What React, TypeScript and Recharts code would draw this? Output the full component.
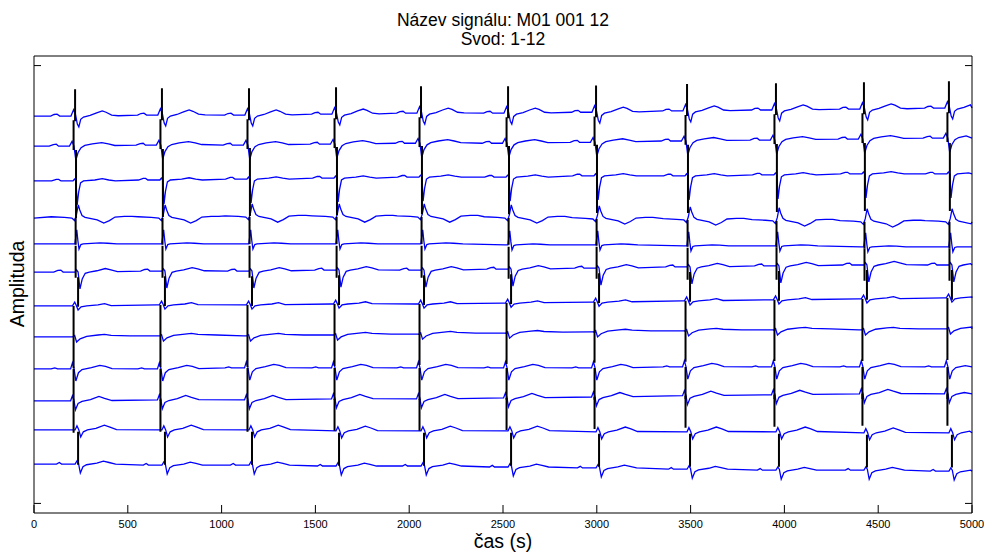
import React from "react";
import { LineChart, Line, XAxis, YAxis } from "recharts";

const BEATS = [219, 682, 1146, 1610, 2063, 2527, 2996, 3481, 3955, 4424, 4877];

const X_TICKS = [0, 500, 1000, 1500, 2000, 2500, 3000, 3500, 4000, 4500, 5000];
const Y_TICKS = [-12.7, 1];

// baseline of each lead at the first beat (mV, with plot offset)
const LEAD_BASE = [-0.58, -1.52, -2.61, -3.77, -4.58, -5.46, -6.52, -7.49, -8.49, -9.49, -10.4, -11.47];

// small timing shift of each lead vs lead 1 (samples)
const LEAD_SHIFT = [0, -8, 5, 3, 3, 16, -8, -8, -8, -8, 16, 16];

// baseline wander per beat (mV)
const LEAD_DRIFT = [
  [0, 0.03, 0.03, 0.06, 0.09, 0.09, 0.12, 0.16, 0.19, 0.22, 0.25],
  [0, 0.03, 0.03, 0.06, 0.09, 0.09, 0.12, 0.16, 0.19, 0.22, 0.25],
  [0, 0.03, 0.06, 0.09, 0.12, 0.12, 0.16, 0.16, 0.19, 0.22, 0.22],
  [0, 0, 0.03, 0.03, 0.03, 0, -0.03, -0.06, -0.09, -0.12, -0.12],
  [0, 0, 0, 0, 0, -0.03, -0.03, -0.06, -0.06, -0.09, -0.09],
  [0, 0.03, 0.03, 0.06, 0.06, 0.09, 0.12, 0.16, 0.19, 0.22, 0.22],
  [0, 0.03, 0.03, 0.06, 0.06, 0.09, 0.12, 0.16, 0.19, 0.22, 0.25],
  [0, 0.03, 0.03, 0.06, 0.09, 0.12, 0.16, 0.19, 0.22, 0.22, 0.25],
  [0, 0, 0.03, 0.03, 0.03, 0.03, 0.03, 0.06, 0.06, 0.06, 0.06],
  [0, 0.03, 0.03, 0.06, 0.06, 0.09, 0.12, 0.16, 0.19, 0.22, 0.22],
  [0, 0, 0, -0.03, -0.03, -0.03, -0.06, -0.06, -0.06, -0.09, -0.09],
  [0, -0.03, -0.03, -0.06, -0.06, -0.09, -0.12, -0.16, -0.19, -0.19, -0.22],
];

// QRS stroke (black) top / bottom relative to the lead baseline (mV)
const QRS_TOP = [0.84, 0.81, 0.97, 0, -0.06, -0.16, 0, 0, 0, 0, -0.06, 0];
const QRS_BOTTOM = [-0.16, -0.12, -1.16, -0.84, -1.06, -1.09, -0.97, -0.97, -1.0, -1.0, -1.09, 0];

// one beat of each lead: [samples from QRS, mV]
const LEAD_WAVES: number[][][] = [
  [[-130, 0], [-112, 0.05], [-96, 0.06], [-82, 0], [-22, 0], [-8, 0.2], [2, 0.05], [12, -0.25], [20, -0.34], [30, -0.1], [45, -0.03], [80, 0.02], [115, 0.1], [145, 0.16], [165, 0.12], [195, 0.03], [230, 0.01]],
  [[-130, 0], [-108, 0.05], [-92, 0.06], [-80, 0], [-22, 0], [-8, 0.15], [2, 0], [12, -0.44], [24, -0.2], [40, -0.05], [60, 0.02], [100, 0.07], [150, 0.11], [185, 0.07], [220, 0.02]],
  [[-130, 0], [-105, 0.05], [-92, 0.05], [-80, 0], [-16, 0], [-8, 0.06], [0, 0], [6, -0.75], [14, -0.35], [24, -0.06], [40, 0], [100, 0.03], [140, 0.07], [175, 0.03], [210, 0]],
  [[-130, 0.04], [-60, 0.02], [-20, 0], [-6, -0.08], [4, 0.1], [14, 0.41], [22, 0.25], [34, 0.08], [50, 0.02], [115, -0.06], [150, -0.16], [180, -0.08], [210, 0.03], [260, 0.05], [300, 0.05]],
  [[-20, 0], [-4, 0], [6, 0.44], [12, 0.1], [18, -0.16], [28, -0.02], [40, 0], [130, 0.03], [170, 0.02], [220, 0]],
  [[-130, 0], [-108, 0.05], [-92, 0.06], [-80, 0], [-16, 0], [-8, 0.07], [0, 0], [10, -0.53], [22, -0.22], [38, -0.04], [60, 0], [100, 0.04], [145, 0.11], [175, 0.07], [210, 0.01]],
  [[-20, 0], [-6, 0], [6, 0.12], [14, 0.02], [24, -0.13], [40, -0.03], [70, 0], [130, 0.03], [165, 0.07], [200, 0.01]],
  [[-20, 0], [-4, 0], [6, 0.04], [16, -0.16], [35, -0.06], [70, 0.02], [130, 0.06], [165, 0.08], [200, 0.05], [300, 0.03]],
  [[-120, 0], [-100, 0.03], [-85, 0], [-16, 0], [-6, 0.19], [2, 0.02], [12, -0.38], [26, -0.12], [45, -0.02], [95, 0.04], [140, 0.11], [170, 0.08], [205, 0.01]],
  [[-16, 0], [-6, 0.16], [2, 0.02], [10, -0.28], [24, -0.08], [45, -0.02], [90, 0.04], [135, 0.14], [165, 0.08], [205, 0.01]],
  [[-16, 0], [-6, 0.13], [4, 0], [14, -0.22], [28, -0.06], [50, 0], [95, 0.05], [140, 0.15], [170, 0.09], [205, 0.01]],
  [[-115, 0], [-100, 0.05], [-88, 0], [-16, 0], [-6, 0.1], [2, 0.03], [12, -0.28], [26, -0.08], [45, -0.02], [100, 0.03], [135, 0.09], [165, 0.05], [200, 0]],
];

const T_MAX = 5000;
const Y_MIN = -13;
const Y_MAX = 1.3;
const FONT = '"Liberation Sans", Arial, Helvetica, sans-serif';

type Pt = { t: number; v: number | null };

function buildLead(i: number): Pt[] {
  const drift = LEAD_DRIFT[i];
  const pts: Pt[] = [{ t: 0, v: LEAD_BASE[i] + drift[0] }];
  BEATS.forEach((b, k) => {
    const base = LEAD_BASE[i] + drift[k];
    LEAD_WAVES[i].forEach(([dt, v]) => {
      const t = b + LEAD_SHIFT[i] + dt;
      if (t > 0 && t < T_MAX) pts.push({ t, v: base + v });
    });
  });
  pts.push({ t: T_MAX, v: LEAD_BASE[i] + drift[drift.length - 1] });
  return pts;
}

function buildQrs(i: number): Pt[] {
  const pts: Pt[] = [];
  if (QRS_TOP[i] === QRS_BOTTOM[i]) return pts;
  BEATS.forEach((b, k) => {
    const base = LEAD_BASE[i] + LEAD_DRIFT[i][k];
    const t = b + LEAD_SHIFT[i];
    pts.push({ t, v: base + QRS_TOP[i] }, { t, v: base + QRS_BOTTOM[i] }, { t, v: null });
  });
  return pts;
}

const leads = LEAD_BASE.map((_, i) => buildLead(i));
const qrs = LEAD_BASE.map((_, i) => buildQrs(i));

const noLabel = () => "";

export default function App() {
  return (
    <div style={{ position: "absolute", left: 0, top: 0, width: 984, height: 552, background: "#fff", fontFamily: FONT }}>
      <LineChart width={984} height={552} margin={{ top: 55, right: 11, bottom: 38, left: 33 }}>
        <XAxis
          dataKey="t"
          type="number"
          domain={[0, T_MAX]}
          ticks={X_TICKS}
          interval={0}
          height={1}
          tickSize={-8}
          tickMargin={15.5}
          tickLine={{ stroke: "#000" }}
          tick={{ fill: "#000", fontSize: 11, fontFamily: FONT }}
          axisLine={{ stroke: "#000" }}
        />
        <XAxis
          xAxisId="top"
          orientation="top"
          dataKey="t"
          type="number"
          domain={[0, T_MAX]}
          ticks={X_TICKS}
          interval={0}
          height={1}
          tickSize={-8}
          tickFormatter={noLabel}
          tickLine={{ stroke: "#000" }}
          axisLine={{ stroke: "#000" }}
        />
        <YAxis
          type="number"
          domain={[Y_MIN, Y_MAX]}
          ticks={Y_TICKS}
          interval={0}
          width={1}
          tickSize={-7}
          tickFormatter={noLabel}
          tickLine={{ stroke: "#000" }}
          axisLine={{ stroke: "#000" }}
          allowDataOverflow
        />
        <YAxis
          yAxisId="right"
          orientation="right"
          type="number"
          domain={[Y_MIN, Y_MAX]}
          ticks={Y_TICKS}
          interval={0}
          width={1}
          tickSize={-7}
          tickFormatter={noLabel}
          tickLine={{ stroke: "#000" }}
          axisLine={{ stroke: "#000" }}
          allowDataOverflow
        />
        {leads.map((d, i) => (
          <Line
            key={"lead" + i}
            data={d}
            dataKey="v"
            type="linear"
            stroke="#0000ff"
            strokeWidth={1.3}
            dot={false}
            activeDot={false}
            isAnimationActive={false}
          />
        ))}
        {qrs.map((d, i) =>
          d.length ? (
            <Line
              key={"qrs" + i}
              data={d}
              dataKey="v"
              type="linear"
              stroke="#000"
              strokeWidth={2}
              dot={false}
              activeDot={false}
              connectNulls={false}
              isAnimationActive={false}
            />
          ) : null
        )}
      </LineChart>
      <div
        style={{
          position: "absolute",
          left: 203,
          top: 11.4,
          width: 600,
          textAlign: "center",
          fontSize: 17.5,
          lineHeight: "18.5px",
          color: "#000",
        }}
      >
        <div>Název signálu: M01 001 12</div>
        <div>Svod: 1-12</div>
      </div>
      <div
        style={{
          position: "absolute",
          left: 403,
          top: 531,
          width: 200,
          textAlign: "center",
          fontSize: 19.5,
          lineHeight: "20px",
          color: "#000",
        }}
      >
        čas (s)
      </div>
      <div
        style={{
          position: "absolute",
          left: 17,
          top: 284,
          transform: "translate(-50%, -50%) rotate(-90deg)",
          whiteSpace: "nowrap",
          fontSize: 19.5,
          lineHeight: "20px",
          color: "#000",
        }}
      >
        Amplituda
      </div>
    </div>
  );
}
